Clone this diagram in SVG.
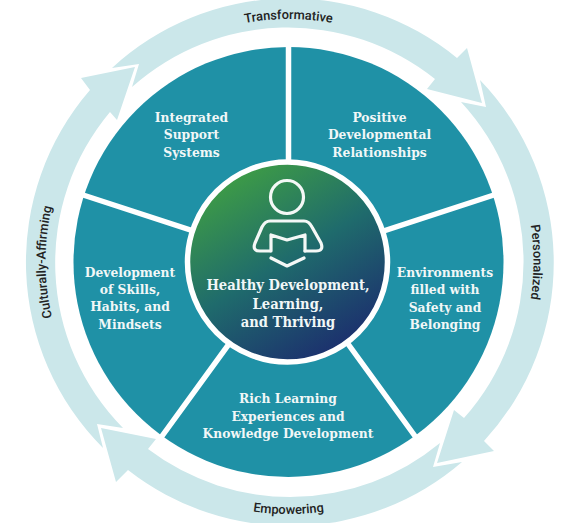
<svg xmlns="http://www.w3.org/2000/svg" width="567" height="523" viewBox="0 0 567 523">
<style>
.band{fill:#cbe7ea}
.sec{fill:#1f91a6}
.div{stroke:#fff;stroke-width:5.5;fill:none}
.t{font-family:"DejaVu Serif Condensed","DejaVu Serif",serif;font-weight:700;font-size:13.700px;fill:#f1f7f7;text-anchor:middle}
.c{font-size:14.600px}
.r{font-family:Roboto,"Liberation Sans",sans-serif;font-weight:500;font-size:12.800px;fill:#222;text-anchor:middle}
.ic{fill:none;stroke:#f4f8f6;stroke-width:3.2;stroke-linejoin:round;stroke-linecap:round}
</style>
<defs>
<linearGradient id="g" x1="0.2" y1="0.05" x2="0.75" y2="0.95"><stop offset="0" stop-color="#3f9e44"/><stop offset="0.5" stop-color="#1f6b6c"/><stop offset="1" stop-color="#1c2f6e"/></linearGradient>
<path id="pT" d="M185.800 41.800 A243 243 0 0 1 391.200 41.800"/>
<path id="pP" d="M510.500 158.500 A245 245 0 0 1 510.500 365.500"/>
<path id="pE" d="M182 490.400 A252 252 0 0 0 395 490.400"/>
<path id="pC" d="M68.300 364.700 A243 243 0 0 1 68.300 159.300"/>
</defs>
<g id="connectors">
<path class="band" d="M112 68 A263 263 0 0 1 457 58 L467 48 L482 103 L427 89 L435 79 A235 235 0 0 0 132 87 L139 64 Z"/>
<path class="band" d="M480 80 A263 263 0 0 1 484 441 L494 451 L437 463 L454 410 L464 418 A235 235 0 0 0 461 102 L486 107 Z"/>
<path class="band" d="M462 462 A263 263 0 0 1 128 470 L116 482 L101 428 L156 439 L148 449 A235 235 0 0 0 440 443 L433 467 Z"/>
<path class="band" d="M103 448 A263 263 0 0 1 90 90 L81 78 L135 67 L117 120 L110 112 A235 235 0 0 0 123 428 L97 424 Z"/>
</g>
<g id="disk"><circle class="sec" cx="288.500" cy="262" r="215"/>
<path class="div" d="M288.500 262V40M288.500 262L500 193M288.500 262L420 443M288.500 262L157 443M288.500 262L77 193"/></g>
<g id="n1"><text class="t" x="191.500" y="122">Integrated</text><text class="t" x="191.500" y="139">Support</text><text class="t" x="191.500" y="157">Systems</text></g>
<g id="n2"><text class="t" x="379.500" y="122">Positive</text><text class="t" x="379.500" y="139">Developmental</text><text class="t" x="379.500" y="157">Relationships</text></g>
<g id="n3"><text class="t" x="445" y="277">Environments</text><text class="t" x="445" y="294">filled with</text><text class="t" x="445" y="312">Safety and</text><text class="t" x="445" y="329">Belonging</text></g>
<g id="n4"><text class="t" x="288" y="403">Rich Learning</text><text class="t" x="288" y="421">Experiences and</text><text class="t" x="288" y="438">Knowledge Development</text></g>
<g id="n5"><text class="t" x="130" y="277">Development</text><text class="t" x="130" y="294">of Skills,</text><text class="t" x="130" y="311">Habits, and</text><text class="t" x="130" y="329">Mindsets</text></g>
<g id="center"><circle cx="287.500" cy="262" r="100" fill="url(#g)" stroke="#fff" stroke-width="5.500"/>
<circle class="ic" cx="287" cy="197" r="16.500"/>
<path class="ic" d="M270 221H304Q309 221 312 227L321 243Q324 251 316 251H305M270 221Q265 221 262 227L255 243Q252 251 260 251H270"/>
<path class="ic" d="M271 235L287 240L305 235V251M271 235V251M271 258L287 266L304 258"/>
<text class="t c" x="288" y="290">Healthy Development,</text><text class="t c" x="288" y="309">Learning,</text><text class="t c" x="288" y="327">and Thriving</text></g>
<g id="labels">
<text class="r"><textPath href="#pT" startOffset="50%">Transformative</textPath></text>
<text class="r"><textPath href="#pP" startOffset="50%">Personalized</textPath></text>
<text class="r"><textPath href="#pE" startOffset="50%">Empowering</textPath></text>
<text class="r"><textPath href="#pC" startOffset="50%">Culturally-Affirming</textPath></text>
</g>
</svg>
